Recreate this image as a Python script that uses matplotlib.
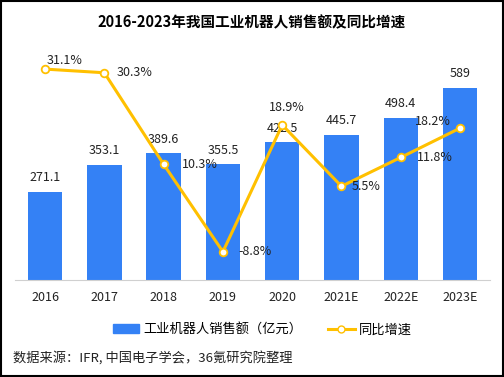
import matplotlib
matplotlib.use('Agg')
import matplotlib.pyplot as plt
from matplotlib.lines import Line2D
from matplotlib.patches import Patch, Rectangle

plt.rcParams['font.family'] = ['Noto Sans CJK SC', 'DejaVu Sans']

# --- 数据 ---
years = ['2016', '2017', '2018', '2019', '2020', '2021E', '2022E', '2023E']
sales = [271.1, 353.1, 389.6, 355.5, 422.5, 445.7, 498.4, 589]
sales_labels = ['271.1', '353.1', '389.6', '355.5', '422.5', '445.7', '498.4', '589']
growth = [31.1, 30.3, 10.3, -8.8, 18.9, 5.5, 11.8, 18.2]

BLUE = '#3481F5'
GOLD = '#FFC000'

fig = plt.figure(figsize=(5.04, 3.77), dpi=100)
ax = fig.add_axes([0.0306, 0.257, 0.941, 0.584])
x = list(range(len(years)))

ax.bar(x, sales, width=0.58, color=BLUE, zorder=2)
ax.set_xlim(-0.5, 7.5)
ax.set_ylim(0, 675)
for xi, v, lab in zip(x, sales, sales_labels):
    ax.annotate(lab, (xi, v), xytext=(0, 14), textcoords='offset pixels',
                ha='center', va='center', fontsize=9, color='#222222')

ax.set_xticks(x)
ax.set_xticklabels(years, fontsize=9, color='#222222')
ax.tick_params(axis='x', length=0, pad=8)
ax.set_yticks([])
for s in ['top', 'right', 'left']:
    ax.spines[s].set_visible(False)
ax.spines['bottom'].set_color('#D0D0D0')

# --- 同比增速 ---
ax2 = ax.twinx()
ax2.set_ylim(-15, 33.1)
ax2.plot(x, growth, color=GOLD, lw=2.2, marker='o', ms=5.5,
         mfc='white', mec=GOLD, mew=1.3, zorder=3)
ax2.set_yticks([])
for s in ['top', 'right', 'left', 'bottom']:
    ax2.spines[s].set_visible(False)

# 标签位置 (像素偏移, 对齐方式)
offs = [((20, 9), 'center'), ((12, 0), 'left'), ((18, 0), 'left'),
        ((16, 0), 'left'), ((5, 17), 'center'), ((10, 0), 'left'),
        ((16, 0), 'left'), ((-9, 7), 'right')]
for xi, g, (off, ha) in zip(x, growth, offs):
    ax2.annotate(f'{g}%', (xi, g), xytext=off, textcoords='offset pixels',
                 ha=ha, va='center', fontsize=9, color='#222222')

fig.text(0.5, 0.94, '2016-2023年我国工业机器人销售额及同比增速',
         ha='center', va='center', fontsize=10.5, fontweight='bold')

handles = [Patch(color=BLUE),
           Line2D([0], [0], color=GOLD, lw=2.2, marker='o', ms=5,
                  mfc='white', mec=GOLD)]
fig.legend(handles, ['工业机器人销售额（亿元）', '同比增速'],
           loc='center', bbox_to_anchor=(0.52, 0.125), ncol=2, frameon=False,
           fontsize=9.5, handlelength=2.0, columnspacing=2.0, handletextpad=0.3)

fig.text(0.026, 0.05, '数据来源：IFR, 中国电子学会，36氪研究院整理',
         ha='left', va='center', fontsize=9.5, color='#222222')

fig.add_artist(Rectangle((0.002, 0.002), 0.996, 0.996, transform=fig.transFigure,
                         fill=False, edgecolor='black', lw=1.5))

fig.savefig('out.png', dpi=100)
